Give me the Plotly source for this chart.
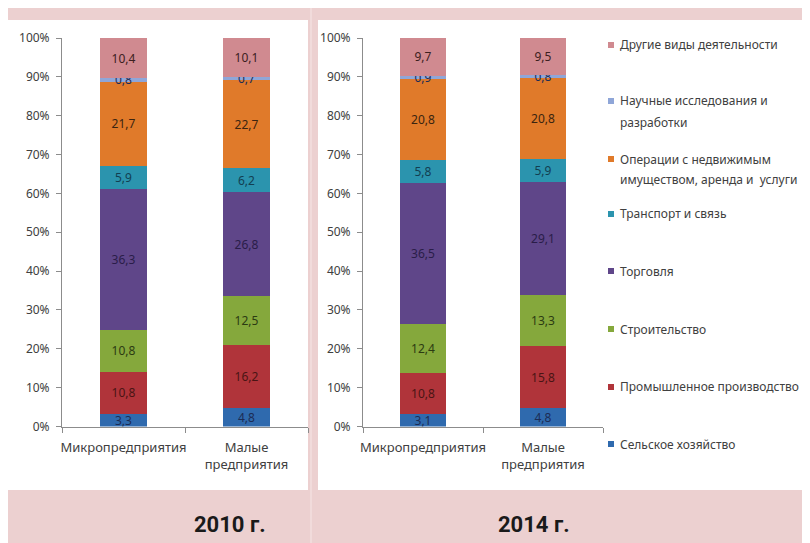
import plotly.graph_objects as go

# ---------------- data ----------------
categories = ["Микропредприятия", "Малые<br>предприятия"]
series_names = [
    "Сельское хозяйство",
    "Промышленное производство",
    "Строительство",
    "Торговля",
    "Транспорт и связь",
    "Операции с недвижимым<br>имуществом, аренда и  услуги",
    "Научные исследования и<br>разработки",
    "Другие виды деятельности",
]
values_2010_micro = [3.3, 10.8, 10.8, 36.3, 5.9, 21.7, 0.8, 10.4]
values_2010_small = [4.8, 16.2, 12.5, 26.8, 6.2, 22.7, 0.7, 10.1]
values_2014_micro = [3.1, 10.8, 12.4, 36.5, 5.8, 20.8, 0.9, 9.7]
values_2014_small = [4.8, 15.8, 13.3, 29.1, 5.9, 20.8, 0.8, 9.5]
panel_titles = ["2010 г.", "2014 г."]
tick_values = [0, 10, 20, 30, 40, 50, 60, 70, 80, 90, 100]
tick_labels = ["0%", "10%", "20%", "30%", "40%", "50%", "60%", "70%", "80%", "90%", "100%"]

# ---------------- styles ----------------
colors = ["#2f6aae", "#b0343a", "#85a83c", "#5f4689", "#2b94ae", "#e07a2a", "#8fa6d8", "#d08a90"]
text_colors = ["#1c2c55", "#4a1414", "#2c3b12", "#2a1d48", "#123f52", "#3b2410", "#1c2c55", "#3c2020"]
PINK = "#ecd0d0"
OFF = 8  # page body margin offset
W, H = 810 - OFF, 543 - OFF

def px(x):
    return (x - OFF) / W

def py(y):
    return 1 - (y - OFF) / H

fig = go.Figure()

panels = [
    (values_2010_micro, values_2010_small, "x", "y"),
    (values_2014_micro, values_2014_small, "x2", "y2"),
]
for micro, small, xa, ya in panels:
    for i, name in enumerate(series_names):
        fig.add_trace(go.Bar(
            x=categories,
            y=[micro[i], small[i]],
            name=name,
            xaxis=xa, yaxis=ya,
            marker=dict(color=colors[i], line=dict(width=0)),
            width=0.39,
            texttemplate="%{y:.1f}",
            textposition="inside",
            insidetextanchor="middle",
            constraintext="none",
            textangle=0,
            textfont=dict(family="Noto Sans, Open Sans, sans-serif", size=12, color=text_colors[i]),
            showlegend=False,
            hoverinfo="skip",
        ))

axis_common_y = dict(
    range=[0, 100], tickmode="array", tickvals=tick_values, ticktext=tick_labels,
    showgrid=False, zeroline=False, showline=True, linecolor="#8c8c8c", linewidth=1,
    ticks="outside", ticklen=5, tickcolor="#8c8c8c",
    tickfont=dict(family="Noto Sans, Open Sans, sans-serif", size=12, color="#404040"),
    ticklabelstandoff=4, automargin=False,
)
axis_common_x = dict(
    type="category", range=[-0.5, 1.5], tickangle=0,
    showgrid=False, zeroline=False, showline=True, linecolor="#8c8c8c", linewidth=1,
    ticks="outside", ticklen=5, tickcolor="#8c8c8c", tickson="boundaries",
    tickfont=dict(family="Noto Sans, Open Sans, sans-serif", size=13, color="#404040"),
    ticklabelstandoff=9, automargin=False,
)

y_dom = [py(426.5), py(38)]
fig.update_layout(
    width=W, height=H,
    margin=dict(l=0, r=0, t=0, b=0, autoexpand=False),
    paper_bgcolor="white", plot_bgcolor="rgba(0,0,0,0)",
    barmode="stack",
    separators=", ",
    xaxis=dict(domain=[px(62), px(308)], anchor="y", **axis_common_x),
    yaxis=dict(domain=y_dom, anchor="x", **axis_common_y),
    xaxis2=dict(domain=[px(363), px(603)], anchor="y2", **axis_common_x),
    yaxis2=dict(domain=y_dom, anchor="x2", **axis_common_y),
)

# ---------------- pink frame ----------------
shapes = [
    dict(type="rect", xref="paper", yref="paper", x0=px(8), x1=px(810), y0=py(20), y1=py(8),
         fillcolor=PINK, line=dict(width=0), layer="below"),
    dict(type="rect", xref="paper", yref="paper", x0=px(308), x1=px(318), y0=py(543), y1=py(8),
         fillcolor=PINK, line=dict(width=0), layer="below"),
    dict(type="rect", xref="paper", yref="paper", x0=px(8), x1=px(810), y0=py(543), y1=py(490),
         fillcolor=PINK, line=dict(width=0), layer="below"),
    dict(type="line", xref="paper", yref="paper", x0=px(311), x1=px(311), y0=py(543), y1=py(8),
         line=dict(color="#f6e6e6", width=1), layer="below"),
]

annotations = []
for title, cx in zip(panel_titles, [230, 534]):
    annotations.append(dict(
        text=f"<b>{title}</b>", x=px(cx), y=py(524), xref="paper", yref="paper",
        showarrow=False, xanchor="center", yanchor="middle",
        font=dict(family="Roboto, sans-serif", size=22, color="#1a1a1a"),
    ))

# ---------------- legend (built from series lists) ----------------
legend_y = {7: [45], 6: [101, 122], 5: [159, 179], 4: [214], 3: [271], 2: [329], 1: [387], 0: [444]}
for i, name in enumerate(series_names):
    lines = name.split("<br>")
    ys = legend_y[i]
    shapes.append(dict(type="rect", xref="paper", yref="paper",
                       x0=px(608), x1=px(614), y0=py(ys[0] + 3), y1=py(ys[0] - 3),
                       fillcolor=colors[i], line=dict(width=0)))
    for ln, yy in zip(lines, ys):
        annotations.append(dict(
            text=ln, x=px(618), y=py(yy), xref="paper", yref="paper",
            showarrow=False, xanchor="left", yanchor="middle",
            font=dict(family="Noto Sans, Open Sans, sans-serif", size=12, color="#404040"),
        ))

fig.update_layout(shapes=shapes, annotations=annotations)
fig.write_html("out.html")
